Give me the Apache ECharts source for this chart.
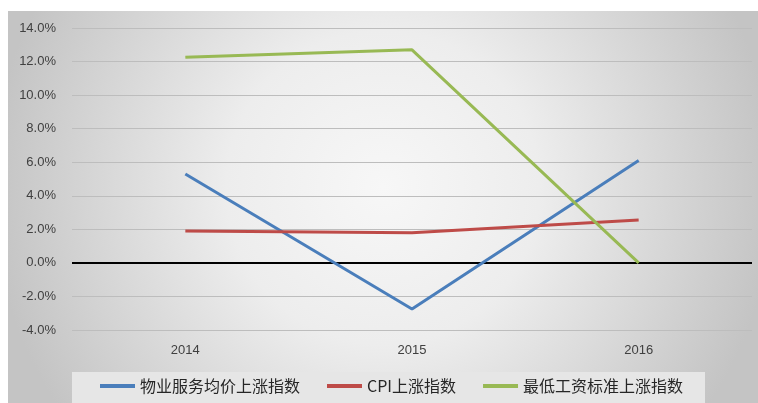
<!DOCTYPE html>
<html><head><meta charset="utf-8">
<script src="https://cdn.jsdelivr.net/npm/echarts@6/dist/echarts.min.js"></script>
<style>html,body{margin:0;padding:0;background:#fff;}#c{width:758px;height:403px;}</style>
</head><body><div id="c"></div>
<script>
const categories = ['2014', '2015', '2016'];
const propertyPrice = [5.3, -2.75, 6.1];
const cpiIndex = [1.9, 1.8, 2.55];
const minWage = [12.25, 12.7, 0.0];
const seriesNames = ['物业服务均价上涨指数', 'CPI上涨指数', '最低工资标准上涨指数'];

const chart = echarts.init(document.getElementById('c'));
const cjk = '"Noto Sans CJK SC", "Noto Sans", sans-serif';
function line(name, data, color) {
  return {
    name: name, type: 'line', data: data, symbol: 'none',
    lineStyle: { color: color, width: 3 }, itemStyle: { color: color },
    z: 3
  };
}
const s = [
  line(seriesNames[0], propertyPrice, '#4a7ebb'),
  line(seriesNames[1], cpiIndex, '#be4b48'),
  line(seriesNames[2], minWage, '#98b954')
];
s[0].markLine = {
  silent: true, symbol: 'none', label: { show: false },
  lineStyle: { color: '#000', width: 2, type: 'solid' },
  data: [{ yAxis: 0 }], z: 2
};
chart.setOption({
  animation: false,
  graphic: [
    { type: 'rect', z: -10, shape: { x: 8, y: 11, width: 750, height: 392 },
      style: { fill: { type: 'radial', x: 0.5, y: 0.45, r: 1.0,
        colorStops: [{ offset: 0, color: '#f7f7f7' }, { offset: 0.4, color: '#ededed' }, { offset: 1, color: '#c4c4c4' }] } } },
    { type: 'rect', z: -9, shape: { x: 72, y: 372, width: 633, height: 31 },
      style: { fill: '#e6e6e6' } }
  ],
  grid: { left: 72, right: 6, top: 28, bottom: 73 },
  legend: {
    left: 100, top: 378, padding: 0, icon: 'rect', itemWidth: 35, itemHeight: 4, itemGap: 27,
    textStyle: { fontFamily: cjk, fontSize: 16, color: '#262626' },
    data: seriesNames
  },
  xAxis: {
    type: 'category', data: categories, boundaryGap: true,
    axisLine: { show: false }, axisTick: { show: false },
    axisLabel: { color: '#404040', fontSize: 13, fontFamily: 'Liberation Sans, sans-serif', margin: 14 }
  },
  yAxis: {
    type: 'value', min: -4, max: 14, interval: 2,
    axisLine: { show: false }, axisTick: { show: false },
    axisLabel: { color: '#404040', fontSize: 13, fontFamily: 'Liberation Sans, sans-serif', margin: 16,
      formatter: v => v.toFixed(1) + '%' },
    splitLine: { lineStyle: { color: '#bdbdbd', width: 1 } }
  },
  series: s
});
</script></body></html>
